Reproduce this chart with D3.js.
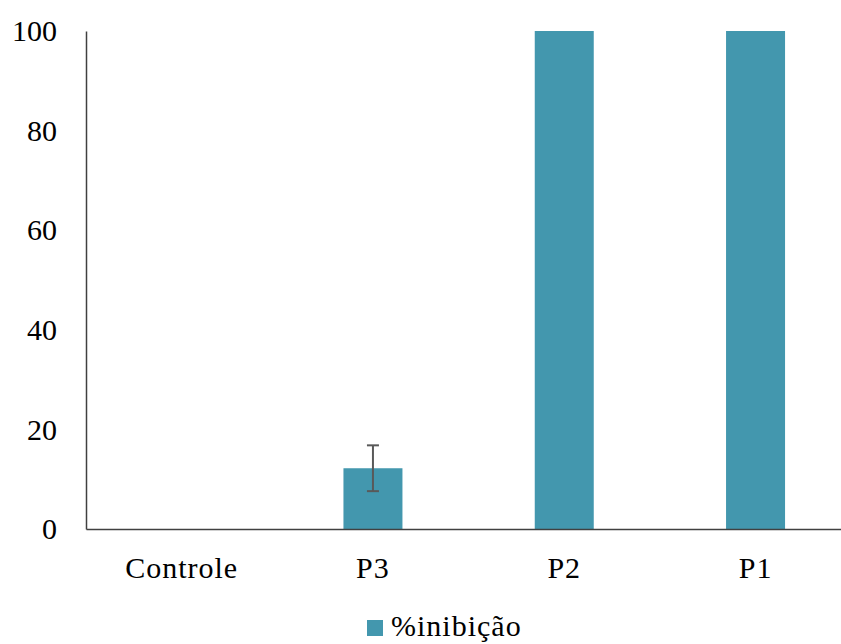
<!DOCTYPE html>
<html><head><meta charset="utf-8">
<script src="https://cdn.jsdelivr.net/npm/d3@7"></script>
<style>body{margin:0;background:#fff}svg{display:block}
text{font-family:"Liberation Serif","Times New Roman",Times,"DejaVu Serif",serif !important;}</style>
</head><body><svg id="c" width="841" height="644"></svg>
<script>
const categories = ["Controle", "P3", "P2", "P1"];
const values = [0, 12.2, 100, 100];
const errors = [0, 4.6, 0, 0];
const yTicks = [0, 20, 40, 60, 80, 100];
const seriesName = "%inibição";

const svg = d3.select("#c");
const color = "#4397ae";
const fs = 30;
const x0 = 86, x1 = 851.2, y0 = 529, y1 = 31;
const x = d3.scaleBand().domain(categories).range([x0, x1]).paddingInner(0).paddingOuter(0);
const y = d3.scaleLinear().domain([0, 100]).range([y0, y1]);
const bw = 59;

svg.append("g").selectAll("rect").data(categories).join("rect")
  .attr("x", (d) => x(d) + x.bandwidth()/2 - bw/2)
  .attr("width", bw)
  .attr("y", (d,i) => y(values[i]))
  .attr("height", (d,i) => y(0) - y(values[i]))
  .attr("fill", color);

// error bars
const eg = svg.append("g").attr("stroke", "#595959").attr("stroke-width", 2);
categories.forEach((c, i) => {
  if (!errors[i]) return;
  const cx = x(c) + x.bandwidth()/2;
  eg.append("line").attr("x1", cx).attr("x2", cx).attr("y1", y(values[i]+errors[i])).attr("y2", y(values[i]-errors[i]));
  eg.append("line").attr("x1", cx-6).attr("x2", cx+6).attr("y1", y(values[i]+errors[i])).attr("y2", y(values[i]+errors[i]));
  eg.append("line").attr("x1", cx-6).attr("x2", cx+6).attr("y1", y(values[i]-errors[i])).attr("y2", y(values[i]-errors[i]));
});

// axes
const ya = svg.append("g").attr("transform", `translate(${x0},0)`)
  .call(d3.axisLeft(y).tickValues(yTicks).tickSize(0).tickPadding(29));
ya.attr("font-family", null);
ya.select(".domain").attr("stroke", "#404040").attr("stroke-width", 1.5);
ya.selectAll("text").attr("font-size", fs).attr("fill", "#000");

const xa = svg.append("g").attr("transform", `translate(0,${y0})`)
  .call(d3.axisBottom(x).tickSize(0).tickPadding(28));
xa.attr("font-family", null);
xa.select(".domain").attr("stroke", "#404040").attr("stroke-width", 1.5);
xa.selectAll("text").attr("font-size", fs).attr("fill", "#000").attr("letter-spacing", 1);

// legend
const lg = svg.append("g").attr("transform", "translate(367,620)");
lg.append("rect").attr("width", 16).attr("height", 16).attr("fill", color);
lg.append("text").attr("x", 24).attr("y", 16).attr("font-size", fs).attr("fill", "#000").attr("letter-spacing", 1).text(seriesName);
</script></body></html>
